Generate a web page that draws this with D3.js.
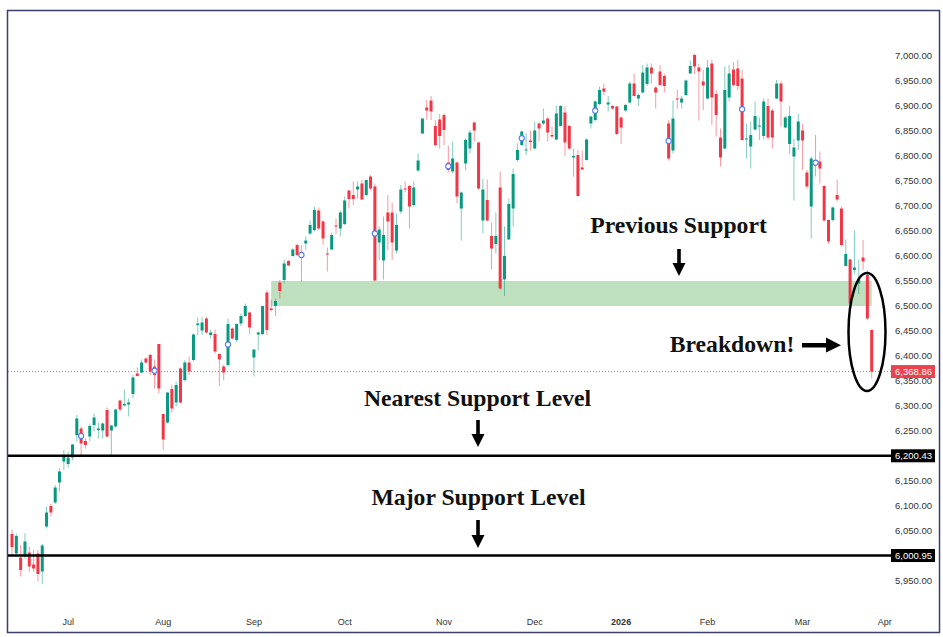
<!DOCTYPE html>
<html><head><meta charset="utf-8">
<script src="https://cdn.jsdelivr.net/npm/d3@7"></script>
<style>body{margin:0;background:#fff}</style>
</head><body><svg id="c" width="943" height="637"></svg>
<script>
const opens=[6044,6005,5997,5999,6007,5983,6005,5969,6059,6100,
6107,6147,6189,6184,6197,6242,6255,6230,6239,6262,
6252,6251,6292,6251,6259,6311,6301,6303,6324,6365,
6367,6395,6402,6379,6424,6284,6267,6334,6307,6375,
6352,6387,6392,6462,6451,6475,6442,6444,6404,6379,
6382,6455,6432,6465,6480,6487,6397,6443,6444,6527,
6495,6500,6547,6552,6590,6600,6622,6605,6625,6645,
6652,6691,6669,6605,6613,6661,6655,6664,6731,6722,
6733,6745,6722,6759,6739,6627,6591,6687,6687,6611,
6689,6735,6740,6702,6771,6845,6897,6911,6860,6873,
6882,6787,6769,6787,6695,6785,6815,6867,6827,6671,
6712,6640,6624,6737,6553,6633,6695,6792,6822,6811,
6831,6815,6865,6865,6875,6842,6833,6860,6887,6860,
6797,6802,6777,6792,6865,6872,6904,6935,6903,6900,
6899,6877,6891,6907,6945,6915,6927,6944,6977,6937,
6969,6960,6865,6811,6915,6907,6922,6965,7002,6977,
6949,6915,6985,6924,6837,6815,6917,6973,6975,6955,
6833,6819,6853,6859,6840,6900,6891,6915,6945,6857,
6824,6799,6831,6851,6767,6699,6784,6789,6740,6672,
6672,6722,6695,6580,6593,6572,6545,6597,6562,6452];
const highs=[6053,6045,6022,6045,6019,6012,6012,6024,6099,6104,
6142,6175,6212,6209,6224,6282,6259,6235,6265,6285,
6267,6267,6297,6262,6295,6313,6333,6315,6362,6377,
6393,6397,6405,6393,6424,6284,6327,6343,6349,6377,
6392,6399,6445,6477,6478,6478,6453,6453,6405,6382,
6475,6457,6465,6485,6505,6489,6413,6449,6500,6531,
6513,6515,6552,6592,6592,6615,6625,6622,6639,6671,
6699,6697,6672,6617,6647,6675,6691,6719,6732,6749,
6749,6752,6753,6762,6745,6659,6679,6722,6707,6685,
6742,6749,6742,6749,6805,6875,6912,6920,6872,6884,
6885,6820,6829,6789,6729,6835,6852,6869,6829,6755,
6753,6667,6687,6769,6659,6715,6775,6825,6851,6845,
6851,6869,6867,6895,6877,6859,6900,6902,6899,6862,
6815,6812,6811,6835,6880,6911,6939,6945,6920,6902,
6900,6879,6904,6949,6965,6925,6982,6985,6985,6939,
6982,6965,6872,6911,6933,6920,6953,6991,7004,6984,
6972,6992,6992,6932,6855,6979,6982,6987,6992,6972,
6865,6869,6909,6877,6915,6915,6895,6952,6949,6880,
6900,6835,6884,6865,6772,6799,6842,6809,6742,6673,
6699,6753,6699,6633,6595,6651,6593,6632,6572,6453];
const lows=[5999,5999,5959,5995,5969,5969,5949,5944,6055,6079,
6104,6129,6172,6177,6192,6229,6199,6215,6229,6249,
6235,6235,6237,6199,6257,6289,6299,6279,6315,6359,
6365,6385,6362,6335,6325,6212,6265,6287,6299,6305,
6349,6362,6389,6442,6442,6445,6435,6405,6340,6351,
6379,6433,6427,6460,6478,6444,6359,6412,6442,6442,
6489,6480,6515,6545,6580,6599,6600,6549,6612,6642,
6649,6653,6622,6569,6612,6644,6640,6662,6695,6702,
6715,6712,6719,6731,6549,6592,6553,6612,6592,6605,
6685,6727,6655,6699,6769,6844,6872,6872,6819,6815,
6822,6767,6765,6705,6631,6771,6805,6829,6732,6645,
6669,6573,6605,6532,6520,6632,6659,6789,6820,6802,
6811,6813,6829,6862,6829,6837,6832,6859,6800,6812,
6759,6719,6772,6791,6855,6869,6902,6922,6889,6893,
6842,6824,6889,6905,6919,6900,6925,6940,6945,6895,
6940,6927,6791,6805,6895,6895,6920,6964,6964,6871,
6892,6913,6862,6839,6779,6813,6909,6939,6932,6831,
6795,6775,6851,6832,6833,6832,6815,6913,6859,6855,
6805,6711,6812,6772,6735,6635,6759,6745,6669,6624,
6669,6709,6619,6579,6495,6565,6524,6572,6472,6355];
const closes=[6018,6040,5972,6029,5979,5975,5964,6021,6087,6087,
6137,6169,6202,6197,6223,6275,6225,6222,6260,6277,
6255,6265,6239,6261,6293,6293,6304,6307,6357,6360,
6387,6387,6369,6362,6335,6233,6327,6295,6342,6307,
6387,6369,6443,6465,6467,6447,6447,6409,6393,6367,
6464,6435,6464,6480,6500,6457,6413,6447,6500,6452,
6492,6510,6530,6585,6581,6613,6602,6599,6631,6662,
6692,6655,6635,6603,6642,6659,6687,6711,6714,6714,
6739,6713,6752,6735,6551,6653,6642,6669,6627,6662,
6733,6733,6699,6737,6791,6875,6891,6889,6822,6840,
6852,6772,6795,6719,6727,6832,6847,6851,6735,6733,
6671,6615,6640,6535,6600,6704,6764,6812,6849,6813,
6828,6851,6855,6871,6847,6839,6885,6900,6827,6815,
6800,6720,6773,6833,6879,6909,6932,6929,6907,6895,
6844,6857,6902,6945,6920,6922,6967,6977,6965,6927,
6942,6940,6795,6875,6913,6915,6951,6980,6979,6969,
6941,6977,6917,6882,6797,6932,6965,6942,6940,6832,
6835,6842,6880,6861,6909,6837,6837,6945,6909,6877,
6880,6817,6869,6831,6739,6795,6789,6775,6671,6629,
6697,6713,6622,6604,6505,6577,6553,6589,6475,6368.86];
const markerIdx=[16,33,50,67,84,101,118,135,152,169,186];
const monthLabels=["Jul","Aug","Sep","Oct","Nov","Dec","2026","Feb","Mar","Apr"];
const monthIdx=[13,35,56,77,100,121,141,161,183,202];
const yTickValues=[5950,6000,6050,6100,6150,6200,6250,6300,6350,6400,6450,6500,6550,6600,6650,6700,6750,6800,6850,6900,6950,7000];
const supportLevels=[6200.43,6000.95];
const lastPrice=6368.86;
const zoneLow=6500, zoneHigh=6550, zoneStartIdx=60, zoneEndIdx=199;

const UP="#089981", DOWN="#F23645";
const svg=d3.select("#c");
const x=d3.scaleLinear().domain([0,199]).range([12,871.7]);
const y=d3.scaleLinear().domain([5900,7000]).range([606,56]);
const fmt=d3.format(",.2f");
const data=opens.map((o,i)=>({i,o,h:highs[i],l:lows[i],c:closes[i]}));

// frame
svg.append("rect").attr("x",7.5).attr("y",10.5).attr("width",932).attr("height",622)
  .attr("fill","none").attr("stroke","#3b3f6b").attr("stroke-width",1.5);

// zone
svg.append("rect").attr("x",x(zoneStartIdx)).attr("width",x(zoneEndIdx)-x(zoneStartIdx))
  .attr("y",y(zoneHigh)).attr("height",y(zoneLow)-y(zoneHigh)).attr("fill","#bfe0be");

// last price dotted line
svg.append("line").attr("x1",8).attr("x2",892).attr("y1",y(lastPrice)).attr("y2",y(lastPrice))
  .attr("stroke",DOWN).attr("stroke-width",1).attr("stroke-dasharray","1,2").attr("opacity",0.8);

// candles
const g=svg.append("g");
g.selectAll(".wick").data(data).join("rect").attr("class","wick")
  .attr("x",d=>x(d.i)-0.5).attr("width",1)
  .attr("y",d=>y(d.h)).attr("height",d=>Math.max(1,y(d.l)-y(d.h)))
  .attr("fill",d=>d.c>=d.o?UP:DOWN).attr("opacity",0.5);
g.selectAll(".body").data(data).join("rect").attr("class","body")
  .attr("x",d=>x(d.i)-1.5).attr("width",3)
  .attr("y",d=>y(Math.max(d.o,d.c))).attr("height",d=>Math.max(1,Math.abs(y(d.o)-y(d.c))))
  .attr("fill",d=>d.c>=d.o?UP:DOWN);

// markers
g.selectAll(".mk").data(markerIdx.map(i=>data[i])).join("circle")
  .attr("cx",d=>x(d.i)).attr("cy",d=>y((d.o+d.c)/2)).attr("r",2.6)
  .attr("fill","#fff").attr("stroke","#5a7cf2").attr("stroke-width",1.1);

// support lines
svg.selectAll(".sl").data(supportLevels).join("line")
  .attr("x1",8).attr("x2",892).attr("y1",d=>y(d)).attr("y2",d=>y(d))
  .attr("stroke","#000").attr("stroke-width",2.5);

// y axis labels
svg.selectAll(".yt").data(yTickValues).join("text")
  .attr("x",932).attr("y",d=>y(d)).attr("dy","0.35em").attr("text-anchor","end")
  .attr("font-family","Liberation Sans, Arial, sans-serif").attr("font-size",9.5).attr("fill","#333")
  .text(d=>fmt(d));

// boxes
function box(v,fill){
  svg.append("rect").attr("x",891).attr("y",y(v)-6.5).attr("width",44).attr("height",13).attr("fill",fill);
  svg.append("text").attr("x",932).attr("y",y(v)).attr("dy","0.35em").attr("text-anchor","end")
    .attr("font-family","Liberation Sans, Arial, sans-serif").attr("font-size",9.5).attr("fill","#fff").text(fmt(v));
}
supportLevels.forEach(v=>box(v,"#000"));
box(lastPrice,"#e8434f");

// month labels
svg.selectAll(".mt").data(monthLabels).join("text")
  .attr("x",(d,k)=>x(monthIdx[k])).attr("y",625).attr("text-anchor","middle")
  .attr("font-family","Liberation Sans, Arial, sans-serif").attr("font-size",9)
  .attr("font-weight",d=>d==="2026"?"bold":"normal").attr("fill","#333").text(d=>d);

// annotations
const serif="Liberation Serif, Times New Roman, serif";
function label(t,cx,by){
  svg.append("text").attr("x",cx).attr("y",by).attr("text-anchor","middle")
    .attr("font-family",serif).attr("font-weight","bold").attr("font-size",23.7).attr("fill","#111").text(t);
}
label("Previous Support",678.5,233);
label("Breakdown!",732,351.5);
label("Nearest Support Level",477.5,405.5);
label("Major Support Level",478.5,504.5);

function downArrow(cx,y0,y1){
  svg.append("rect").attr("x",cx-1.8).attr("y",y0).attr("width",3.6).attr("height",(y1-y0)-11).attr("fill","#000");
  svg.append("path").attr("d",`M${cx-6.5},${y1-13}L${cx+6.5},${y1-13}L${cx},${y1}Z`).attr("fill","#000");
}
downArrow(679,249,276);
downArrow(478,420,447);
downArrow(478,520,548);
svg.append("rect").attr("x",802).attr("y",343).attr("width",26).attr("height",4.5).attr("fill","#000");
svg.append("path").attr("d","M826,337.5L826,352.5L841,345.2Z").attr("fill","#000");

svg.append("ellipse").attr("cx",867).attr("cy",332).attr("rx",18.5).attr("ry",59)
  .attr("fill","none").attr("stroke","#000").attr("stroke-width",2.5);
</script></body></html>
